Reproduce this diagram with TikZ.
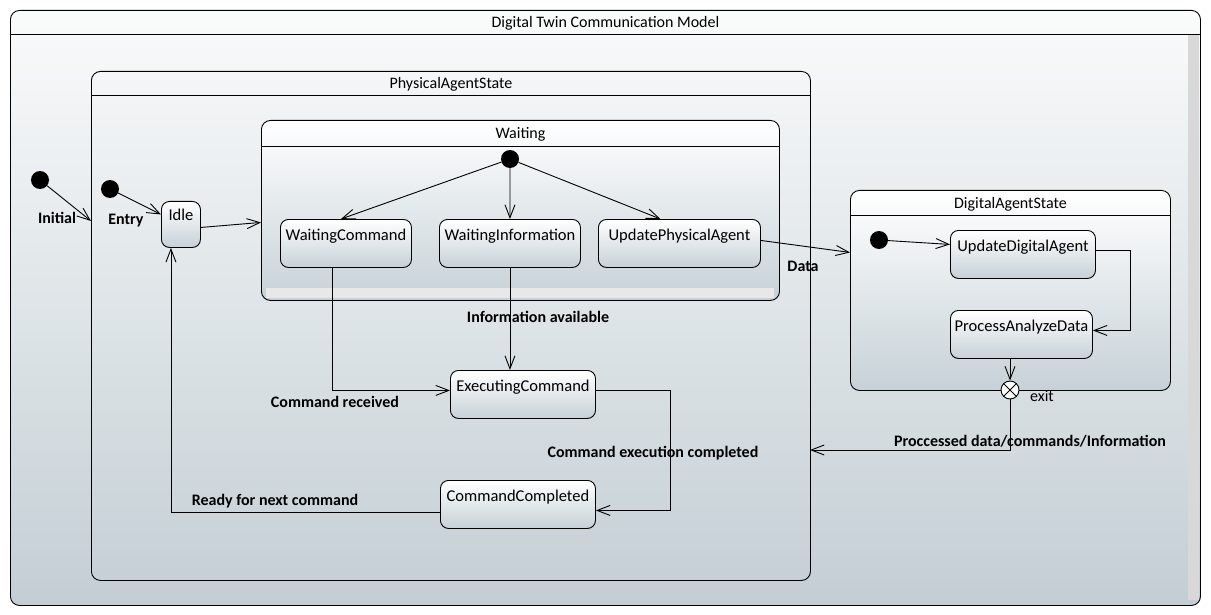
\documentclass[tikz,border=0pt]{standalone}
\usepackage{fontspec}
\setmainfont{Carlito}
\usepackage{xcolor}
\usetikzlibrary{arrows.meta}

\definecolor{bgtop}{HTML}{FAFBFB}
\definecolor{bgbot}{HTML}{C3CED4}
\definecolor{stbot}{HTML}{C6D1D7}
\definecolor{barcol}{HTML}{D8D8D8}

\tikzset{
	frame/.style={draw, rounded corners=9pt, anchor=north west, inner sep=0pt, line width=0.9pt},
	state/.style={draw, rounded corners=8pt, anchor=north west, inner xsep=2pt, inner ysep=0pt,
		text height=21pt, text depth=27pt, top color=white, bottom color=stbot, line width=0.9pt},
	init/.style={circle, fill=black, inner sep=0pt, minimum size=18pt},
	exitpt/.style={circle, draw, fill=white, inner sep=0pt, minimum size=18pt, line width=0.9pt},
	trans/.style={-{Straight Barb[length=13pt,width=10pt]}, line width=0.9pt},
	lab/.style={font=\fontsize{16}{19}\selectfont\bfseries, inner sep=0pt},
	ttl/.style={font=\fontsize{16}{19}\selectfont, inner sep=0pt},
}

\begin{document}
\begin{tikzpicture}[x=1pt,y=-1pt,font=\fontsize{16.5}{19}\selectfont]
	\useasboundingbox (0,0) rectangle (1211,615);
	
	% outer frame
	\node[frame, top color=bgtop, bottom color=bgbot, minimum width=1190pt, minimum height=595pt] (dt) at (10,10) {};
	\fill[barcol] (1188,35) rectangle (1199,600);
	\draw[line width=0.9pt] ([yshift=-24pt]dt.north west) -- ([yshift=-24pt]dt.north east);
	\node[ttl] (dtT) at ([yshift=-13pt]dt.north) {Digital Twin Communication Model};
	
	% physical agent
	\node[frame, minimum width=719pt, minimum height=509pt] (phys) at (91,71) {};
	\draw[line width=0.9pt] ([yshift=-24pt]phys.north west) -- ([yshift=-24pt]phys.north east);
	\node[ttl] (physT) at ([yshift=-13pt]phys.north) {PhysicalAgentState};
	\coordinate (physIn) at (91,221);
	\coordinate (physOut) at (810,450);
	
	\node[init] (i0) at (40,180) {};
	\node[init] (e0) at (110,189) {};
	\node[state, text height=19pt, minimum width=39pt] (idle) at (161,201) {Idle};
	
	% waiting
	\node[frame, top color=white, bottom color=stbot, minimum width=518pt, minimum height=180pt] (wait) at (261,120) {};
	\fill[barcol!60] (266,288) rectangle (774,298);
	\draw[line width=0.9pt] ([yshift=-26pt]wait.north west) -- ([yshift=-26pt]wait.north east);
	\node[ttl] (waitT) at ([yshift=-14pt]wait.north) {Waiting};
	
	\node[init] (w0) at (510,159) {};
	\node[state, minimum width=131pt] (wc) at (280,219) {WaitingCommand};
	\node[state, minimum width=141pt] (wi) at (439,219) {WaitingInformation};
	\node[state, minimum width=162pt] (ua) at (598,219) {UpdatePhysicalAgent};
	
	\node[state, minimum width=145pt] (ec) at (450,370) {ExecutingCommand};
	\node[state, minimum width=155pt] (cc) at (440,480) {CommandCompleted};
	
	% digital agent
	\node[frame, top color=white, bottom color=stbot, minimum width=320pt, minimum height=200pt] (das) at (850,190) {};
	\draw[line width=0.9pt] ([yshift=-25pt]das.north west) -- ([yshift=-25pt]das.north east);
	\node[ttl] (dasT) at ([yshift=-14pt]das.north) {DigitalAgentState};
	
	\node[init] (d0) at (879,240) {};
	\node[state, minimum width=145pt] (uda) at (950,230) {UpdateDigitalAgent};
	\node[state, minimum width=142pt] (pad) at (950,310) {ProcessAnalyzeData};
	\node[exitpt] (ex) at (1010,390) {};
	\draw[line width=0.9pt] (ex.45) -- (ex.225) (ex.135) -- (ex.315);
	
	% transitions
	\draw[trans] (i0) -- (physIn);
	\draw[trans] (e0) -- ([yshift=10pt]idle.west);
	\draw[trans] ([yshift=-3pt]idle.east) -- ([yshift=-12pt]wait.west);
	\draw[trans] (w0) -- ([xshift=-5pt]wc.north);
	\draw[trans] (w0) -- (wi.north);
	\draw[trans] (w0) -- ([xshift=-19pt]ua.north);
	\draw[trans] ([xshift=-14pt]wc.south) |- ([yshift=4pt]ec.west);
	\draw[trans] (wi.south) -- (wi.south |- ec.north);
	\draw[trans] ([yshift=4pt]ec.east) -- ++(75,0) |- ([yshift=-6pt]cc.east);
	\draw[trans] ([yshift=-8pt]cc.west) -| ([xshift=-10pt]idle.south);
	\draw[trans] ([yshift=3pt]ua.east) -- ([yshift=38pt]das.west);
	\draw[trans] (d0) -- ([yshift=10pt]uda.west);
	\draw[trans] ([yshift=4pt]uda.east) -- ++(35,0) |- ([yshift=4pt]pad.east);
	\draw[trans] (pad.south -| ex) -- (ex.north);
	\draw[trans] (ex.south) |- (physOut);
	
	% labels
	\node[lab] (lInit) at (57,218) {Initial};
	\node[lab] (lEntry) at (126,221) {Entry};
	\node[lab] (lData) at (803,266) {Data};
	\node[lab] (lInfo) at (538,317) {Information available};
	\node[lab] (lRecv) at (335,402) {Command received};
	\node[lab] (lDone) at (653,453) {Command execution completed};
	\node[lab] (lNext) at (275,501) {Ready for next command};
	\node[lab] (lProc) at (1030,441) {Proccessed data/commands/Information};
	\node[ttl] (lExit) at (1042,396) {exit};
\end{tikzpicture}
\end{document}
